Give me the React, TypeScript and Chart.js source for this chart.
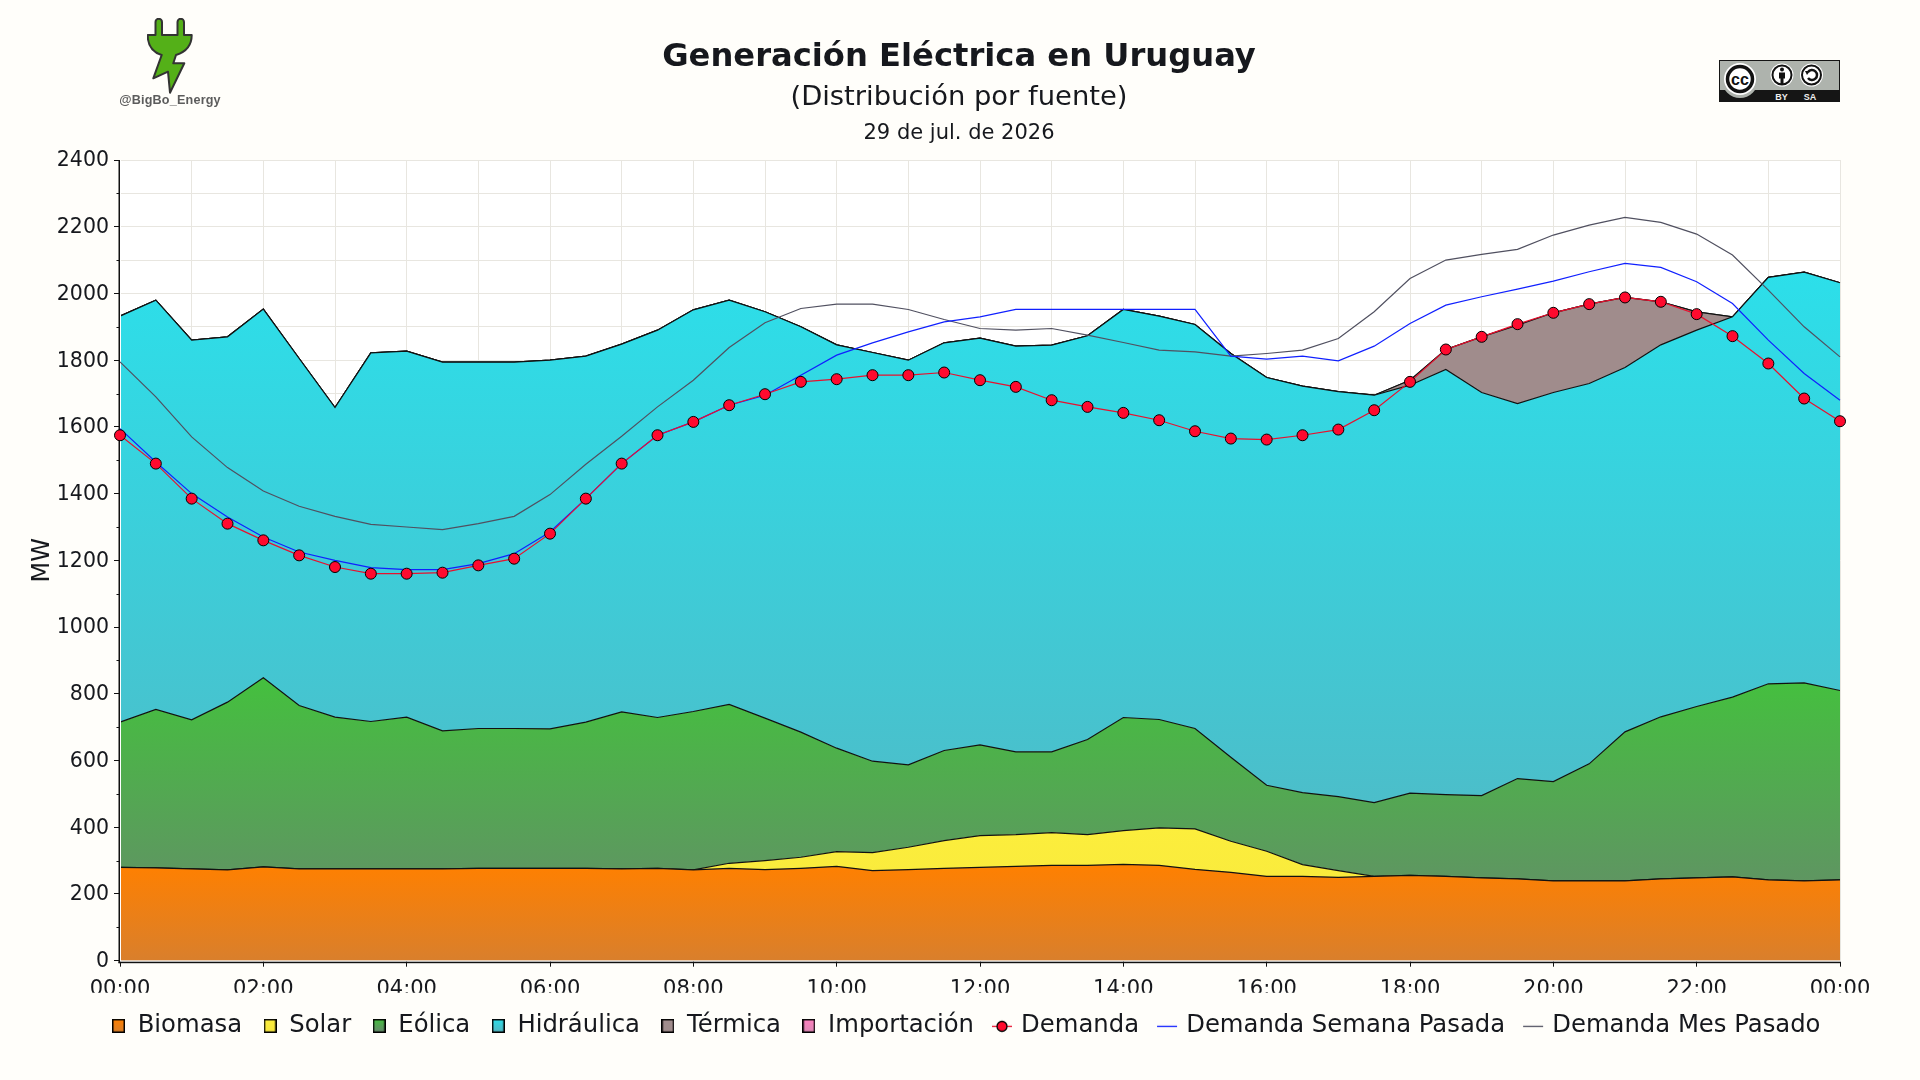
// App.tsx - generacion electrica Uruguay, stacked area + demand lines
import React, { useEffect, useRef } from 'react';
import { Chart, registerables } from 'chart.js';

Chart.register(...registerables);

const FONT = '"DejaVu Sans"';
const TITLE = 'Generación Eléctrica en Uruguay';
const SUBTITLE = '(Distribución por fuente)';
const DATE_LABEL = '29 de jul. de 2026';

const times = [
  '00:00', '00:30', '01:00', '01:30', '02:00', '02:30', '03:00', '03:30', '04:00', '04:30',
  '05:00', '05:30', '06:00', '06:30', '07:00', '07:30', '08:00', '08:30', '09:00', '09:30',
  '10:00', '10:30', '11:00', '11:30', '12:00', '12:30', '13:00', '13:30', '14:00', '14:30',
  '15:00', '15:30', '16:00', '16:30', '17:00', '17:30', '18:00', '18:30', '19:00', '19:30',
  '20:00', '20:30', '21:00', '21:30', '22:00', '22:30', '23:00', '23:30', '00:00',
];

const biomasa = [
  280, 278, 275, 272, 281, 275, 275, 275, 275, 275,
  277, 277, 277, 277, 275, 277, 272, 277, 273, 277,
  283, 270, 273, 277, 280, 283, 286, 286, 289, 286,
  274, 265, 253, 253, 250, 253, 256, 253, 248, 245,
  239, 239, 239, 245, 248, 251, 242, 239, 242,
];
const solar = [
  0, 0, 0, 0, 0, 0, 0, 0, 0, 0,
  0, 0, 0, 0, 0, 0, 0, 15, 27, 33,
  44, 54, 67, 83, 95, 95, 98, 92, 101, 112,
  121, 93, 75, 35, 20, 0, 0, 0, 0, 0,
  0, 0, 0, 0, 0, 0, 0, 0, 0,
];
const eolica = [
  435, 475, 447, 503, 567, 490, 455, 442, 455, 414,
  419, 419, 418, 438, 471, 452, 475, 476, 427, 375,
  310, 274, 247, 270, 272, 248, 242, 285, 339, 325,
  301, 252, 198, 216, 222, 221, 246, 245, 247, 301,
  298, 351, 447, 486, 514, 539, 588, 594, 568,
];
const hidraulica = [
  1217, 1227, 1138, 1095, 1105, 1040, 928, 1105, 1097, 1105,
  1098, 1098, 1105, 1097, 1102, 1161, 1204, 1212, 1218, 1215,
  1209, 1225, 1213, 1222, 1219, 1216, 1219, 1210, 1223, 1209,
  1211, 1210, 1222, 1218, 1214, 1221, 1223, 1274, 1208, 1124,
  1166, 1140, 1092, 1115, 1128, 1140, 1218, 1231, 1222,
];
const termica = [
  0, 0, 0, 0, 0, 0, 0, 0, 0, 0,
  0, 0, 0, 0, 0, 0, 0, 0, 0, 0,
  0, 0, 0, 0, 0, 0, 0, 0, 0, 0,
  0, 0, 0, 0, 0, 0, 15, 60, 167, 235,
  239, 238, 210, 129, 55, 0, 0, 0, 0,
];
const importacion = times.map(() => 0);

const demanda = [
  1575, 1490, 1385, 1310, 1260, 1215, 1180, 1160, 1160, 1163,
  1185, 1205, 1280, 1385, 1490, 1575, 1615, 1665, 1698, 1735,
  1743, 1755, 1755, 1763, 1740, 1720, 1680, 1660, 1642, 1620,
  1587, 1565, 1562, 1575, 1592, 1650, 1735, 1832, 1870, 1908,
  1942, 1968, 1988, 1975, 1938, 1872, 1790, 1685, 1617,
];
const demandaSemana = [
  1595, 1495, 1400, 1330, 1270, 1225, 1200, 1178, 1172, 1172,
  1190, 1220, 1285, 1385, 1490, 1575, 1615, 1665, 1695, 1755,
  1815, 1852, 1885, 1915, 1930, 1952, 1952, 1952, 1952, 1952,
  1952, 1812, 1803, 1812, 1798, 1842, 1910, 1965, 1990, 2013,
  2037, 2065, 2090, 2078, 2035, 1970, 1860, 1760, 1680,
];
const demandaMes = [
  1795, 1690, 1570, 1478, 1408, 1362, 1332, 1308, 1300, 1292,
  1310, 1332, 1397, 1488, 1572, 1660, 1740, 1838, 1912, 1955,
  1968, 1968, 1952, 1922, 1895, 1890, 1895, 1875, 1853, 1830,
  1825, 1812, 1820, 1830, 1865, 1945, 2045, 2100, 2117, 2132,
  2175, 2205, 2228, 2213, 2178, 2115, 2010, 1900, 1810,
];

// [top colour, colour towards the axis, value where the gradient starts]
const AREA_STYLES: Record<string, [string, string, number]> = {
  Biomasa: ['#ff8000', '#d97f2c', 290],
  Solar: ['#fcee3c', '#f6e63e', 400],
  Eólica: ['#44c03e', '#69856f', 850],
  Hidráulica: ['#2cdfea', '#55b4c0', 2064],
  Térmica: ['#a08c8c', '#a08c8c', 2000],
  Importación: ['#ff80c0', '#dc88b4', 2000],
};

const areaFill = (name: string) => (ctx: any) => {
  const { chart } = ctx;
  const [top, bottom, from] = AREA_STYLES[name];
  if (!chart.chartArea || !chart.scales.y) return top;
  const g = chart.ctx.createLinearGradient(0, chart.scales.y.getPixelForValue(from), 0, chart.scales.y.getPixelForValue(0));
  g.addColorStop(0, top);
  g.addColorStop(1, bottom);
  return g;
};

const swatch = (name: string) => {
  const c = document.createElement('canvas');
  c.width = 13;
  c.height = 14;
  const x = c.getContext('2d')!;
  const g = x.createLinearGradient(0, 0, 0, 14);
  g.addColorStop(0, AREA_STYLES[name][0]);
  g.addColorStop(1, AREA_STYLES[name][1]);
  x.fillStyle = g;
  x.fillRect(0, 0, 13, 14);
  x.strokeStyle = '#000';
  x.lineWidth = 1.5;
  x.strokeRect(0.75, 0.75, 11.5, 12.5);
  return c;
};

const lineMark = (color: string, dot: boolean) => {
  const c = document.createElement('canvas');
  c.width = 22;
  c.height = 14;
  const x = c.getContext('2d')!;
  x.strokeStyle = color;
  x.lineWidth = 1.3;
  x.beginPath();
  x.moveTo(1, 7.5);
  x.lineTo(21, 7.5);
  x.stroke();
  if (dot) {
    x.fillStyle = '#ff0a2e';
    x.strokeStyle = '#000';
    x.beginPath();
    x.arc(11, 7.5, 5, 0, Math.PI * 2);
    x.fill();
    x.stroke();
  }
  return c;
};

const area = (label: string, data: number[], fill: string | boolean, order: number) => ({
  label,
  data,
  stack: 'gen',
  fill,
  order,
  backgroundColor: areaFill(label),
  borderColor: '#111',
  borderWidth: 1.2,
  pointRadius: 0,
  tension: 0,
});

const line = (label: string, data: number[], color: string, order: number) => ({
  label,
  data,
  stack: label,
  fill: false,
  order,
  borderColor: color,
  borderWidth: 1.2,
  pointRadius: 0,
  tension: 0,
  clip: false as const,
});

const headerPlugin = {
  id: 'header',
  beforeDraw(chart: any) {
    const { ctx, chartArea } = chart;
    ctx.save();
    ctx.fillStyle = '#ffffff';
    ctx.fillRect(chartArea.left, chartArea.top, chartArea.width, chartArea.height);
    ctx.fillStyle = '#16181d';
    ctx.textAlign = 'center';
    ctx.textBaseline = 'middle';
    ctx.font = `bold 32.2px ${FONT}`;
    ctx.fillText(TITLE, 959, 58);
    ctx.font = `27.4px ${FONT}`;
    ctx.fillText(SUBTITLE, 959, 98);
    ctx.font = `21px ${FONT}`;
    ctx.fillText(DATE_LABEL, 959, 134);
    ctx.restore();
  },
  afterLayout(chart: any) {
    // legend sits a bit right of the centre of the box Chart.js gives it
    chart.legend.left += 46;
    chart.legend.right += 46;
  },
  afterDatasetDraw(chart: any, args: any) {
    // Biomasa is the last area drawn: axis lines go here, with the small white gap
    // next to the fills, so the demand lines and points stay over them
    if (args.index !== 0) return;
    const { ctx, chartArea: a } = chart;
    ctx.save();
    ctx.fillStyle = '#ffffff';
    ctx.fillRect(a.left, a.top, 1, a.height + 1);
    ctx.fillRect(a.left, a.bottom, a.width + 1, 1);
    ctx.fillStyle = '#111';
    ctx.fillRect(a.left - 1.5, a.top, 1.5, a.height + 2.5);
    ctx.fillRect(a.left - 1.5, a.bottom + 1, a.width + 1.5, 1.5);
    ctx.restore();
  },
  afterDraw(chart: any) {
    // short minor ticks on the y axis
    const { ctx, scales } = chart;
    ctx.save();
    ctx.strokeStyle = '#111';
    ctx.lineWidth = 1;
    for (let v = 100; v < 2400; v += 200) {
      const y = Math.round(scales.y.getPixelForValue(v)) + 0.5;
      ctx.beginPath();
      ctx.moveTo(chart.chartArea.left - 3.5, y);
      ctx.lineTo(chart.chartArea.left, y);
      ctx.stroke();
    }
    ctx.restore();
  },
};

const Logo = () => (
  <div style={{ position: 'absolute', left: 110, top: 18, width: 120, textAlign: 'center' }}>
    <svg width="46" height="76" viewBox="0 0 46 76" style={{ display: 'block', margin: '0 auto 0 37px' }}>
      <path
        d="M8.5 4 a3.25 3.25 0 0 1 6.5 0 V17 H30.5 V4 a3.25 3.25 0 0 1 6.5 0 V17 H44.7 c0 11 -6 17 -15.7 20 l-2.7 8.3 H37.3 L23 74.7 L21 53.7 L6.3 60.3 L14.7 37 C5 34 0.7 28 0.7 17 H8.5 Z"
        fill="#54b018"
        stroke="#333"
        strokeWidth="2"
        strokeLinejoin="round"
      />
    </svg>
    <div style={{ font: 'bold 12.6px "Liberation Sans"', color: '#5c5c5c', marginTop: -1, letterSpacing: 0.2 }}>@BigBo_Energy</div>
  </div>
);

const CcBadge = () => (
  <svg
    width="121"
    height="42"
    viewBox="0 0 121 42"
    style={{ position: 'absolute', left: 1719, top: 60 }}
  >
    <rect x="0" y="0" width="121" height="42" fill="#151515" />
    <rect x="1" y="1" width="119" height="29" fill="#aeb3ad" />
    <circle cx="21" cy="20" r="18" fill="#aeb3ad" />
    <circle cx="21" cy="19" r="16" fill="#fff" />
    <circle cx="21" cy="19" r="12.5" fill="#fff" stroke="#111" strokeWidth="3.5" />
    <text x="21" y="24.5" textAnchor="middle" fontFamily="Liberation Sans" fontWeight="bold" fontSize="16" fill="#111">cc</text>
    <circle cx="63" cy="15" r="11.5" fill="#fff" />
    <circle cx="63" cy="15" r="9.5" fill="#fff" stroke="#111" strokeWidth="2" />
    <circle cx="63" cy="9.5" r="2" fill="#111" />
    <rect x="60" y="12.5" width="6" height="6" fill="#111" />
    <rect x="61.5" y="18" width="3" height="6" fill="#111" />
    <circle cx="92.5" cy="15" r="11.5" fill="#fff" />
    <circle cx="92.5" cy="15" r="9.5" fill="#fff" stroke="#111" strokeWidth="2" />
    <path d="M89 12 a5 5 0 1 1 0 6" fill="none" stroke="#111" strokeWidth="2.5" />
    <path d="M86 11 l5 0 l-3 4 z" fill="#111" />
    <text x="62.5" y="39.5" textAnchor="middle" fontFamily="Liberation Sans" fontWeight="bold" fontSize="9" fill="#eee">BY</text>
    <text x="91" y="39.5" textAnchor="middle" fontFamily="Liberation Sans" fontWeight="bold" fontSize="9" fill="#eee">SA</text>
  </svg>
);

const App: React.FC = () => {
  const canvasRef = useRef<HTMLCanvasElement>(null);

  useEffect(() => {
    document.body.style.margin = '0';
    document.body.style.background = '#fffefa';
    if (!canvasRef.current) return;

    const legendItems = [
      { text: 'Biomasa', pointStyle: swatch('Biomasa') },
      { text: 'Solar', pointStyle: swatch('Solar') },
      { text: 'Eólica', pointStyle: swatch('Eólica') },
      { text: 'Hidráulica', pointStyle: swatch('Hidráulica') },
      { text: 'Térmica', pointStyle: swatch('Térmica') },
      { text: 'Importación', pointStyle: swatch('Importación') },
      { text: 'Demanda', pointStyle: lineMark('#e8102e', true) },
      { text: 'Demanda Semana Pasada', pointStyle: lineMark('#1020ff', false) },
      { text: 'Demanda Mes Pasado', pointStyle: lineMark('#505060', false) },
    ];

    const chart = new Chart(canvasRef.current, {
      type: 'line',
      plugins: [headerPlugin],
      data: {
        labels: times,
        datasets: [
          area('Biomasa', biomasa, 'origin', 3),
          area('Solar', solar, '-1', 4),
          area('Eólica', eolica, '-1', 5),
          area('Hidráulica', hidraulica, '-1', 6),
          area('Térmica', termica, '-1', 7),
          area('Importación', importacion, '-1', 8),
          {
            ...line('Demanda', demanda, '#e8102e', 0),
            borderWidth: 1.2,
            pointRadius: 5.5,
            pointBackgroundColor: '#ff0a2e',
            pointBorderColor: '#000',
            pointBorderWidth: 1,
          },
          line('Demanda Semana Pasada', demandaSemana, '#1020ff', 1),
          line('Demanda Mes Pasado', demandaMes, '#505060', 2),
        ] as any,
      },
      options: {
        animation: false,
        responsive: false,
        devicePixelRatio: 1,
        layout: { padding: { top: 160, left: 0, right: 80, bottom: 32 } },
        font: { family: FONT },
        plugins: {
          title: { display: false },
          tooltip: { enabled: false },
          legend: {
            position: 'bottom',
            labels: {
              color: '#16181d',
              font: { family: FONT, size: 24.3 },
              usePointStyle: true,
              pointStyleWidth: 14,
              padding: 21,
              generateLabels: () => legendItems.map((it) => ({ ...it, fontColor: '#16181d', hidden: false, lineWidth: 0 })) as any,
            },
          },
        },
        scales: {
          x: {
            stacked: true,
            afterFit: (scale: any) => {
              scale.height = 32;
            },
            border: { display: false },
            grid: {
              color: (c: any) => (c.index % 2 === 0 ? '#e8e6e0' : 'transparent'),
              tickColor: (c: any) => (c.index % 4 === 0 ? '#111' : 'transparent'),
              tickLength: 6,
            },
            ticks: {
              autoSkip: false,
              maxRotation: 0,
              color: '#16181d',
              padding: 10,
              font: { family: FONT, size: 21 },
              callback: (_v: any, i: number) => (i % 4 === 0 ? times[i] : ''),
            },
          },
          y: {
            stacked: true,
            min: 0,
            max: 2400,
            afterFit: (scale: any) => {
              scale.width = 120;
            },
            border: { display: false },
            title: {
              display: true,
              text: 'MW',
              color: '#16181d',
              font: { family: FONT, size: 24 },
              padding: { top: 28, bottom: 0 },
            },
            grid: {
              color: '#e8e6e0',
              tickColor: (c: any) => (c.index % 2 === 0 ? '#111' : 'transparent'),
              tickLength: 6,
            },
            ticks: {
              stepSize: 100,
              autoSkip: false,
              color: '#16181d',
              padding: 5,
              labelOffset: 1,
              font: { family: FONT, size: 20.5 },
              callback: (v: any) => (Number(v) % 200 === 0 ? String(v) : ''),
            },
          },
        },
      },
    });

    return () => chart.destroy();
  }, []);

  return (
    <div style={{ position: 'relative', width: 1920, height: 1080 }}>
      <canvas ref={canvasRef} width={1920} height={1080} style={{ display: 'block' }} />
      <Logo />
      <CcBadge />
    </div>
  );
};

export default App;
